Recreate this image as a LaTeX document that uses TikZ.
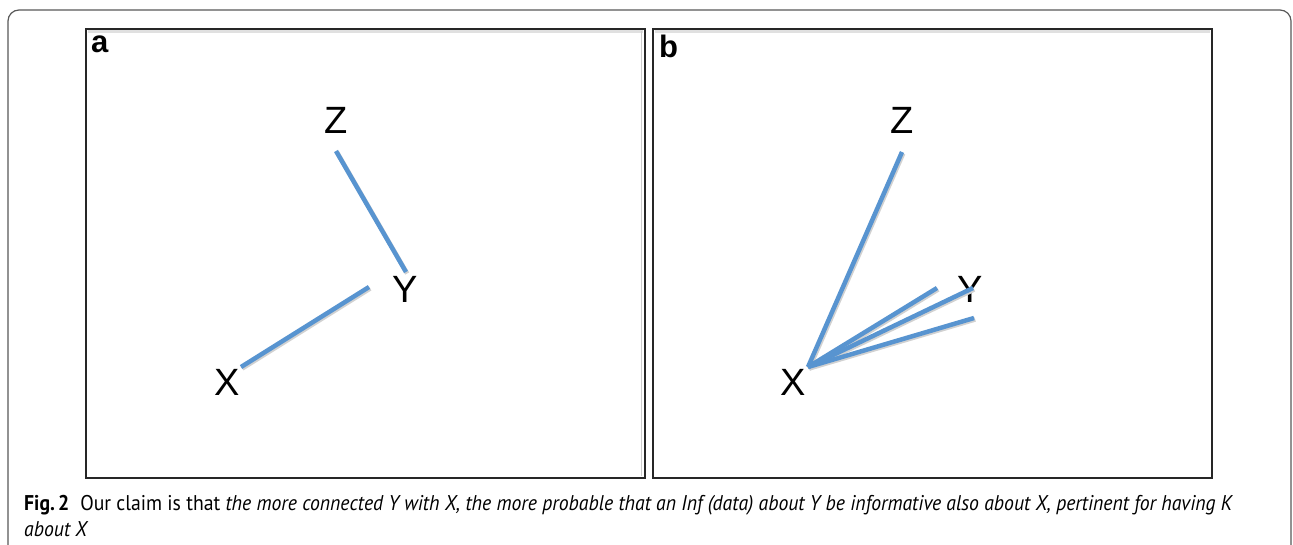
\documentclass[tikz,border=0pt]{standalone}
\usepackage{fontspec}
\setmainfont{Liberation Sans}
\newfontfamily\capfont{PT Sans}
\begin{document}
\begin{tikzpicture}[x=1pt,y=-1pt,
  letter/.style={font=\fontsize{38}{38}\selectfont, inner sep=0pt, anchor=center},
  plabel/.style={font=\fontsize{31}{31}\selectfont\bfseries, inner sep=0pt, anchor=base west},
  panel/.style={draw=black!85, line width=1.8pt},
  shade/.style={draw=black!12, line width=2.5pt},
  edge/.style={draw={rgb,255:red,88;green,148;blue,208}, line width=4.5pt},
  edgeshadow/.style={draw=black!18, line width=4.5pt},
  frame/.style={draw=black!65, line width=1.2pt, rounded corners=11pt},
  captext/.style={anchor=base west, inner sep=0pt}]
\useasboundingbox (0,0) rectangle (1293,544);
\fill[white] (0,0) rectangle (1293,544);
% outer frame
\draw[frame] (8,600) -- (8,10) -- (1291,10) -- (1291,600);
% panels
\draw[shade] (88,31.5) -- (643,31.5);
\draw[shade] (655,31.5) -- (1210,31.5);
\draw[panel] (86,29) rectangle (645,478);
\draw[panel] (653,29) rectangle (1212,478);
\draw[black!20, line width=0.6pt] (641.5,31) -- (641.5,476);
\node[plabel] (la) at (91,52) {a};
\node[plabel] (lb) at (659,57) {b};
% panel a
\node[letter] (Za) at (336,120) {Z};
\node[letter] (Ya) at (405,289) {Y};
\node[letter] (Xa) at (227,382) {X};
\coordinate (za1) at (336,151);
\coordinate (ya1) at (406,272);
\coordinate (ya2) at (369,287);
\coordinate (xa1) at (241,367);
\draw[edgeshadow] ([shift={(1.2,1.5)}]za1) -- ([shift={(1.2,1.5)}]ya1);
\draw[edgeshadow] ([shift={(1.2,1.5)}]xa1) -- ([shift={(1.2,1.5)}]ya2);
\draw[edge] (za1) -- (ya1);
\draw[edge] (xa1) -- (ya2);
% panel b
\node[letter] (Zb) at (902,120) {Z};
\node[letter] (Yb) at (970,289) {Y};
\node[letter] (Xb) at (793,382) {X};
\coordinate (xb1) at (808,367);
\coordinate (zb1) at (902,152);
\coordinate (yb1) at (937,288);
\coordinate (yb2) at (973,288);
\coordinate (yb3) at (974,318);
\foreach \e in {zb1,yb1,yb2,yb3}{
  \draw[edgeshadow] ([shift={(1.2,1.5)}]xb1) -- ([shift={(1.2,1.5)}]\e);
}
\foreach \e in {zb1,yb1,yb2,yb3}{
  \draw[edge] (xb1) -- (\e);
}
% caption
\node[captext] (cap) at (24,510) {\scalebox{1}[1.08]{\resizebox{1209pt}{!}{\capfont\fontsize{17.5}{21.5}\selectfont
  \begin{tabular}[t]{@{}l@{}}
  \textbf{Fig.\,2}\hspace{0.55em}Our claim is that \textit{the more connected Y with X, the more probable that an Inf (data) about Y be informative also about X, pertinent for having K}\\
  \textit{about X}
  \end{tabular}}}};
\end{tikzpicture}
\end{document}
